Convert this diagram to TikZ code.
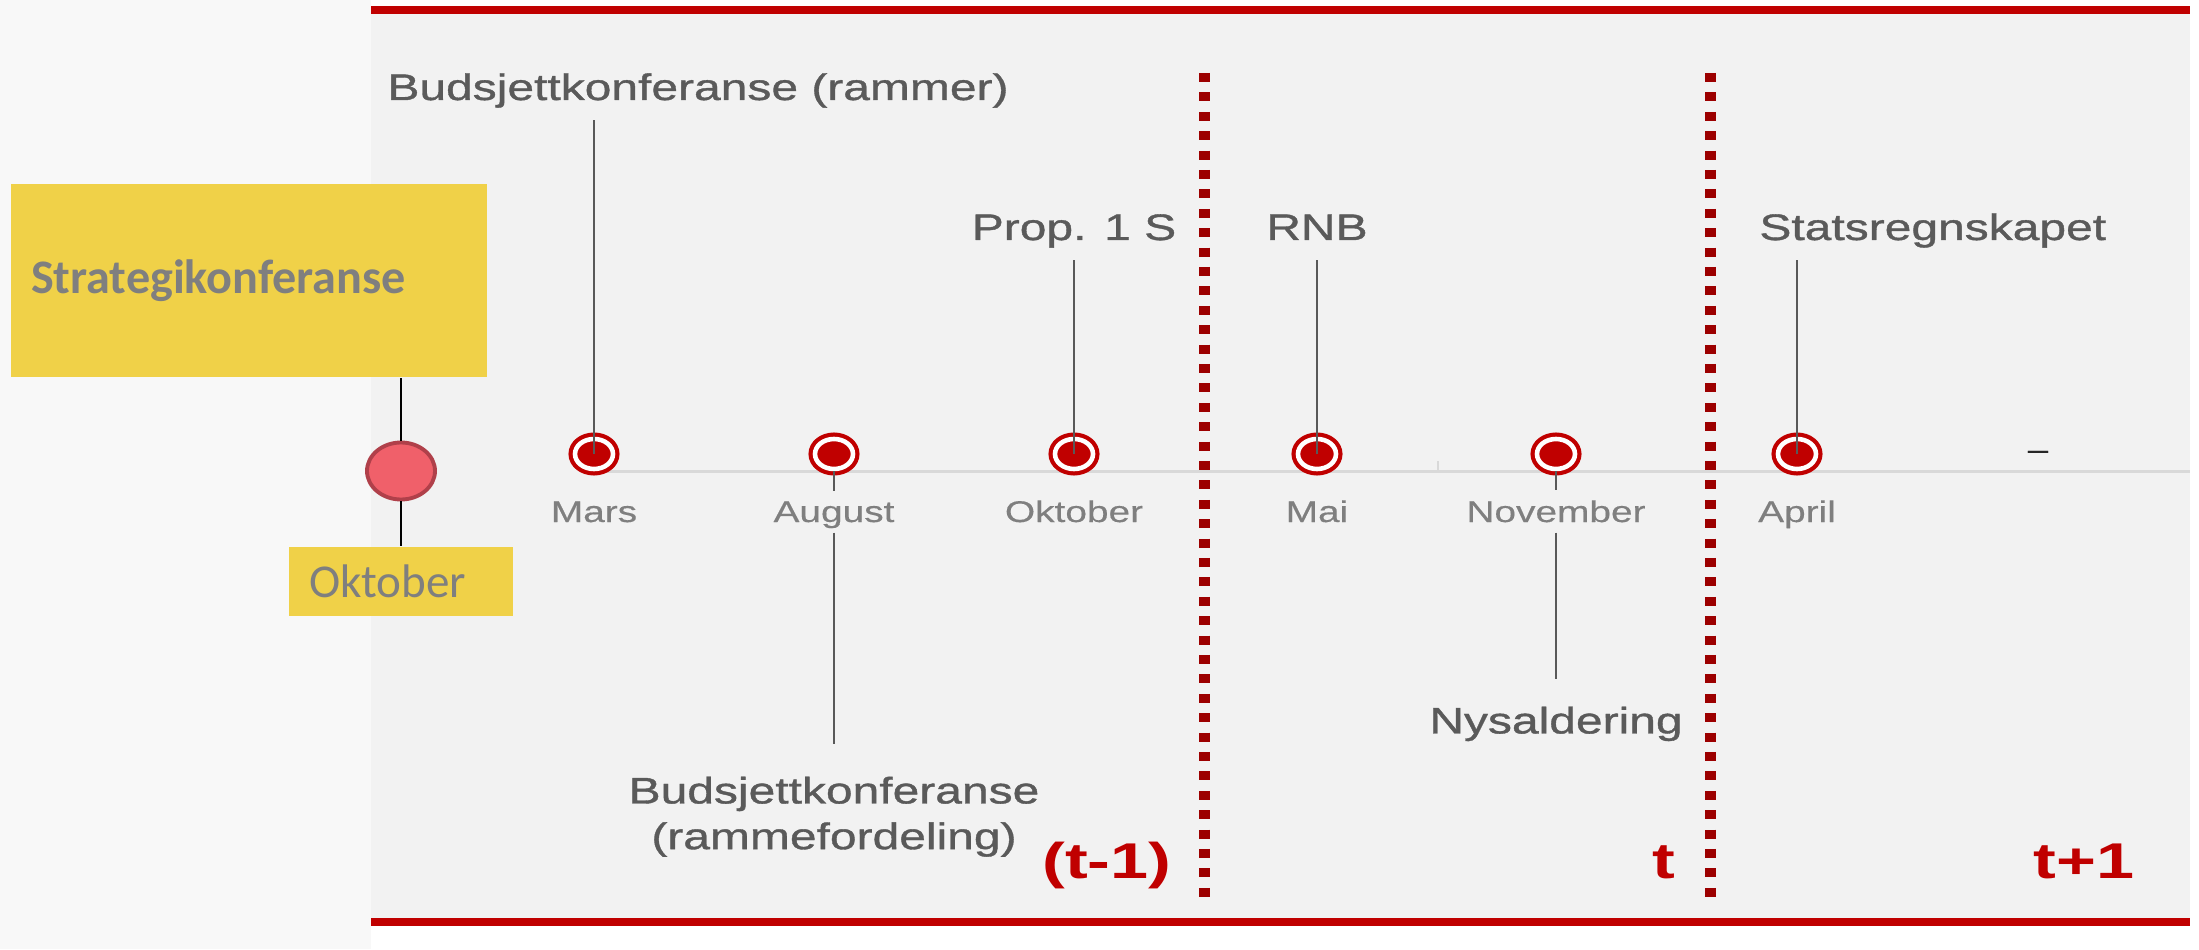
\documentclass[tikz,border=0pt]{standalone}
\usepackage{fontspec}
\usepackage{tikz}
\usetikzlibrary{positioning,calc,shapes}
\newfontfamily\evfont[FakeStretch=1.3,FakeBold=1]{Liberation Sans}
\newfontfamily\tlfont[FakeStretch=1.3,FakeBold=0.4]{Liberation Sans}
\newfontfamily\perfont[FakeStretch=1.36]{Liberation Sans}
\newfontfamily\boxfont{Carlito}
\definecolor{tlred}{HTML}{C00000}
\definecolor{dotred}{HTML}{9C0000}
\definecolor{boxyellow}{HTML}{F0D148}
\definecolor{dotpink}{HTML}{F0606A}
\definecolor{dotrim}{HTML}{B0404A}
\definecolor{labelgray}{HTML}{5A5A5A}
\definecolor{monthgray}{HTML}{7F7F7F}
\definecolor{axisgray}{HTML}{D9D9D9}
\definecolor{panelgray}{HTML}{F2F2F2}
\definecolor{sidegray}{HTML}{F8F8F8}

\begin{document}
\begin{tikzpicture}
  \tikzset{
    milestone/.style={
      ellipse,
      draw=tlred,
      fill=tlred,
      double=white,
      double distance=1.3pt,
      line width=1.2pt,
      minimum width=3.8mm,
      minimum height=3.0mm,
      inner sep=0pt
    },
    event/.style={
      font=\evfont\fontsize{10.5pt}{13pt}\selectfont,
      text=labelgray,
      text depth=0.8mm
    },
    eventlow/.style={
      font=\evfont\fontsize{10.5pt}{13pt}\selectfont,
      text=labelgray,
      align=center
    },
    month/.style={
      font=\tlfont\fontsize{8.5pt}{10pt}\selectfont,
      text=monthgray,
      text depth=0pt,
      inner ysep=1mm
    },
    period/.style={
      font=\perfont\bfseries\fontsize{14.3pt}{16pt}\selectfont,
      text=tlred,
      inner sep=0pt,
      anchor=base east
    },
    bigbox/.style={
      fill=boxyellow,
      minimum width=4.76cm,
      minimum height=1.93cm,
      text width=4.36cm,
      inner xsep=2mm,
      align=left,
      font=\boxfont\bfseries\fontsize{13.7pt}{16pt}\selectfont,
      text=monthgray
    },
    smallbox/.style={
      fill=boxyellow,
      minimum width=2.24cm,
      minimum height=0.69cm,
      text width=1.84cm,
      inner xsep=2mm,
      align=left,
      font=\boxfont\fontsize{13.4pt}{16pt}\selectfont,
      text=monthgray
    },
    startdot/.style={
      ellipse,
      draw=dotrim,
      fill=dotpink,
      line width=1.1pt,
      minimum width=6.8mm,
      minimum height=5.7mm
    },
    stem/.style={
      draw=black!65,
      line width=0.7pt
    },
    link/.style={
      draw=black,
      line width=0.5pt
    },
    frame/.style={
      draw=tlred,
      line width=0.8mm
    },
    divider/.style={
      draw=dotred,
      line width=1.1mm,
      dash pattern=on 0.9mm off 1.04mm
    }
  }
  \useasboundingbox (0,0) rectangle (21.99,9.49);

  % Background
  \fill[sidegray] (0,0) rectangle (3.71,9.49);
  \fill[panelgray] (3.71,0.27) rectangle (21.90,9.39);

  % Frame lines
  \draw[frame] (3.71,9.39) -- (21.90,9.39);
  \draw[frame] (3.71,0.27) -- (21.90,0.27);

  % Time axis
  \draw[axisgray, line width=0.3mm] (5.95,4.78) -- (21.90,4.78);
  \draw[axisgray, line width=0.2mm] (14.38,4.78) -- (14.38,4.88);

  % Year dividers
  \foreach \x in {12.04,17.10} {
    \draw[divider] (\x,8.76) -- (\x,0.52);
  }

  % Milestones
  \foreach \id/\x/\mnd in {mars/5.94/Mars, aug/8.34/August, okt/10.74/Oktober, mai/13.17/Mai, nov/15.56/November, apr/17.97/April} {
    \node[milestone] (\id) at (\x,4.95) {};
    \node[month, anchor=base] (\id-m) at (\x,4.27) {\mnd};
  }
  \node[font=\tlfont\fontsize{8pt}{10pt}\selectfont, text=black!85] (strek) at (20.38,4.94) {–};

  % Events
  \node[event, anchor=base west] (rammer) at (3.75,8.49) {Budsjettkonferanse (rammer)};
  \node[event, anchor=base] (prop) at (10.74,7.09) {Prop. 1 S};
  \node[event, anchor=base] (rnb) at (13.17,7.09) {RNB};
  \node[event, anchor=base west] (regnskap) at (17.47,7.09) {Statsregnskapet};
  \node[eventlow, anchor=north, inner ysep=3.2mm] (fordeling) at (8.34,2.05) {Budsjettkonferanse\\(rammefordeling)};
  \node[eventlow, anchor=north, inner ysep=2.7mm] (nysald) at (15.56,2.70) {Nysaldering};

  \draw[stem] (mars.center) -- (mars.center |- rammer.south);
  \draw[stem] (okt.center) -- (okt.center |- prop.south);
  \draw[stem] (mai.center) -- (mai.center |- rnb.south);
  \draw[stem] (apr.center) -- (apr.center |- regnskap.south);
  \draw[stem] (aug) -- (aug-m);
  \draw[stem] (aug-m) -- (fordeling);
  \draw[stem] (nov) -- (nov-m);
  \draw[stem] (nov-m) -- (nysald);

  % Periods
  \node[period] (tforr) at (11.72,0.71) {(t-1)};
  \node[period] (tnaa) at (16.76,0.71) {t};
  \node[period] (tneste) at (21.35,0.71) {t+1};

  % Strategy conference
  \node[bigbox] (strat) at (2.49,6.685) {Strategikonferanse};
  \node[startdot] (stratdot) at (4.01,4.78) {};
  \node[smallbox] (stratmnd) at (4.01,3.675) {Oktober};
  \draw[link] (stratdot) -- (stratdot |- strat.south);
  \draw[link] (stratdot) -- (stratmnd);
\end{tikzpicture}
\end{document}
